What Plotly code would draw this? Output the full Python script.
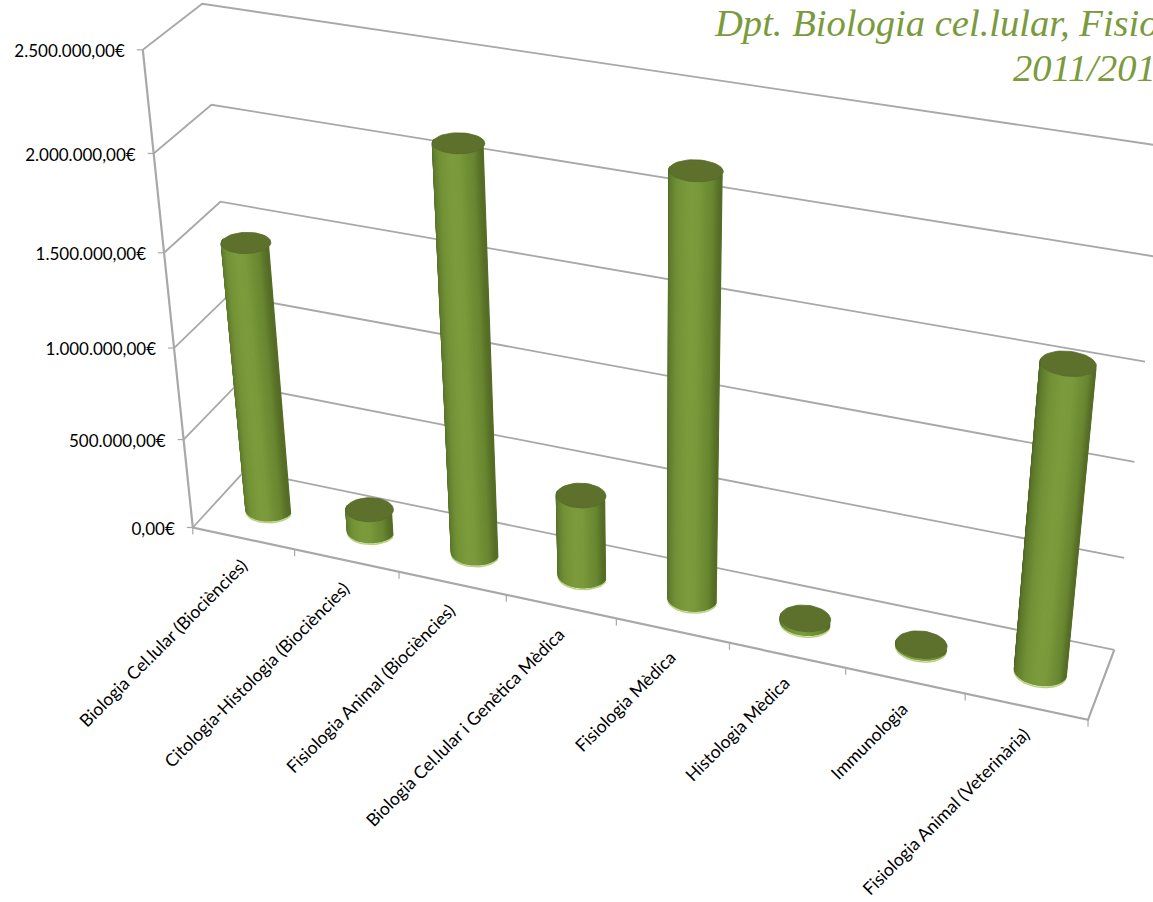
import numpy as np
import plotly.graph_objects as go

# ---- chart data ----
categories = ["Biologia Cel.lular (Biociències)", "Citologia-Histologia (Biociències)",
              "Fisiologia Animal (Biociències)", "Biologia Cel.lular i Genètica Mèdica",
              "Fisiologia Mèdica", "Histologia Mèdica", "Immunologia",
              "Fisiologia Animal (Veterinària)"]
values = [1465000, 120000, 2150000, 445000, 2200000, 20000, 10000, 1585000]
tick_values = [0, 500000, 1000000, 1500000, 2000000, 2500000]
tick_labels = ["0,00€", "500.000,00€", "1.000.000,00€", "1.500.000,00€", "2.000.000,00€", "2.500.000,00€"]
title_lines = ["Dpt. Biologia cel.lular, Fisiologia i Immunologia", "2011/2012"]
vmax = 2500000

# ---- projection of the 3D box on the page: (category pos, depth, value share) -> pixels
calib = [(0, 0, 0, 191, 527), (1, 0, 0, 1088, 720), (0, 1, 0, 245, 471), (1, 1, 0, 1113, 650),
         (0, 0, 1, 142, 50), (0, 1, 1, 203, 4), (1, 1, 1, 1168, 147),
         (0, 0, .8, 153, 153), (0, 0, .6, 164, 253), (0, 0, .4, 176, 348), (0, 0, .2, 185, 440),
         (0, 1, .8, 211, 105), (0, 1, .6, 220, 201), (1, 1, .6, 1145, 362), (1, 1, .4, 1134, 461),
         (1, 1, .2, 1126, 558), (1, 1, .8, 1156, 257)]
A, b = [], []
for u, w, v, px, py in calib:
    A.append([u, w, v, 1, 0, 0, 0, 0, -px * u, -px * w, -px * v]); b.append(px)
    A.append([0, 0, 0, 0, u, w, v, 1, -py * u, -py * w, -py * v]); b.append(py)
H = np.linalg.lstsq(np.array(A, float), np.array(b, float), rcond=None)[0]
H = np.append(H, 1.0).reshape(3, 4)


def proj(u, w, v):
    p = H @ np.array([u, w, v, 1.0])
    return p[0] / p[2], p[1] / p[2]


def path(points):
    pts = [proj(*p) for p in points]
    return [q[0] for q in pts], [q[1] for q in pts]


GRID = "#a8a8a8"
fig = go.Figure()


def add_line(xs, ys, width=1.8, color=GRID):
    fig.add_trace(go.Scatter(x=xs, y=ys, mode="lines", line=dict(color=color, width=width),
                             hoverinfo="skip", showlegend=False))


# walls and floor
for t in tick_values:
    v = t / vmax
    xs, ys = path([(0, 0, v), (0, 1, v), (1, 1, v)])
    add_line(xs, ys)
xs, ys = path([(0, 0, 1), (0, 0, 0), (1, 0, 0), (1, 1, 0)])
add_line(xs, ys, 2.2)

# tick marks
for t in tick_values:
    x, y = proj(0, 0, t / vmax)
    add_line([x - 6, x], [y, y], 1.2)
for k in range(len(categories) + 1):
    x, y = proj(k / len(categories), 0, 0)
    add_line([x, x], [y, y + 7], 1.2)

# cylinders
RU, RW = 0.0265, 0.19
N = 96
stops_t = [0, .08, .3, .55, .7, .92, 1]
stops_c = np.array([[0x4c, 0x61, 0x22], [0x5c, 0x78, 0x2b], [0x73, 0x92, 0x37], [0x7c, 0x9c, 0x3d],
                    [0x7a, 0x9a, 0x3b], [0x69, 0x87, 0x31], [0x55, 0x6d, 0x26]], float)


def shade(t):
    c = [np.interp(t, stops_t, stops_c[:, i]) for i in range(3)]
    return "rgb(%d,%d,%d)" % tuple(c)


angles = np.linspace(np.pi, 3 * np.pi, N + 1)
centres = [(i + .5) / len(categories) for i in range(len(categories))]
# base rim
px, py = [], []
for cu in centres:
    xs, ys = path([(cu + RU * np.cos(a), .5 + RW * np.sin(a), -0.004) for a in np.linspace(np.pi, 2 * np.pi, 24)])
    px += xs + [None]; py += ys + [None]
add_line(px, py, 1.6, "#b9d383")
for k in range(N):
    a0, a1 = angles[k], angles[k + 1]
    if np.sin((a0 + a1) / 2) >= 0:
        continue
    colour = shade((np.cos((a0 + a1) / 2) + 1) / 2)
    px, py = [], []
    for cu, val in zip(centres, values):
        v = val / vmax
        poly = [(cu + RU * np.cos(a), .5 + RW * np.sin(a), h) for a, h in
                [(a0, 0), (a1, 0), (a1, v), (a0, v), (a0, 0)]]
        xs, ys = path(poly)
        px += xs + [None]; py += ys + [None]
    fig.add_trace(go.Scatter(x=px, y=py, mode="lines", fill="toself", fillcolor=colour,
                             line=dict(color=colour, width=1.2), hoverinfo="skip", showlegend=False))
# tops
px, py = [], []
for cu, val in zip(centres, values):
    xs, ys = path([(cu + RU * np.cos(a), .5 + RW * np.sin(a), val / vmax) for a in np.linspace(0, 2 * np.pi, 49)])
    px += xs + [None]; py += ys + [None]
fig.add_trace(go.Scatter(x=px, y=py, mode="lines", fill="toself", fillcolor="#5d702c",
                         line=dict(color="#566928", width=0.8), hoverinfo="skip", showlegend=False))

# value labels
lx, ly = [], []
for t in tick_values:
    x, y = proj(0, 0, t / vmax)
    lx.append(x - 18); ly.append(y + 3)
fig.add_trace(go.Scatter(x=lx, y=ly, mode="text", text=tick_labels, textposition="middle left",
                         textfont=dict(family="Lato", size=17, color="#000000"),
                         hoverinfo="skip", showlegend=False))

# category labels
annotations = []
for cu, name in zip(centres, categories):
    x, y = proj(cu, 0, 0)
    annotations.append(dict(x=x + 10, y=y + 14, text=name, showarrow=False, textangle=-45,
                            xanchor="right", yanchor="top", xref="x", yref="y",
                            font=dict(family="Lato", size=17.6, color="#000000")))
# title (runs off the right edge in the reference)
for line, y_mid in zip(title_lines, [23, 68]):
    annotations.append(dict(x=1094, y=y_mid, text="<i>" + line + "</i>", showarrow=False,
                            xanchor="center", yanchor="middle", xref="x", yref="y",
                            font=dict(family="Liberation Serif", size=38.6, color="#7a9a3c")))

fig.update_layout(width=1153, height=902, margin=dict(l=0, r=0, t=0, b=0), paper_bgcolor="white",
                  plot_bgcolor="white", showlegend=False, annotations=annotations,
                  xaxis=dict(range=[0, 1153], visible=False, fixedrange=True),
                  yaxis=dict(range=[902, 0], visible=False, fixedrange=True))
fig.write_html("out.html", config=dict(displayModeBar=False),
               post_script="document.body.style.margin='0';document.body.style.overflow='hidden';")
